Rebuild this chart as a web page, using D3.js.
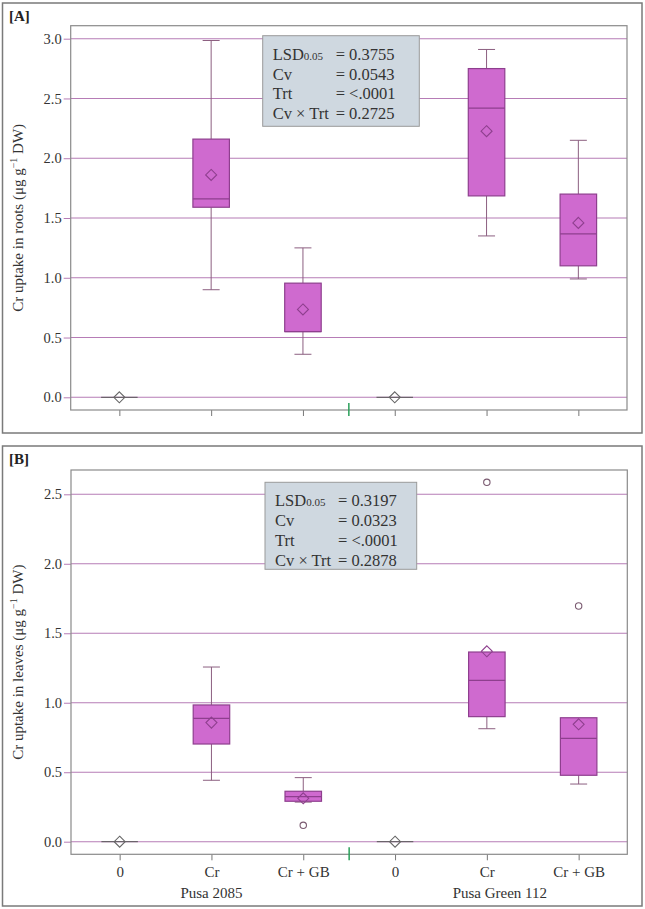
<!DOCTYPE html>
<html><head><meta charset="utf-8">
<script src="https://cdn.jsdelivr.net/npm/d3@7/dist/d3.min.js"></script>
<style>body{margin:0;background:#fff}svg{display:block}</style>
</head><body>
<script>
// ---- data ----
const categories = ["0","Cr","Cr + GB","0","Cr","Cr + GB"];
const cultivars = ["Pusa 2085","Pusa Green 112"];

const rootsLow    = [0, 0.90, 0.36, 0, 1.35, 0.99];
const rootsQ1     = [0, 1.59, 0.55, 0, 1.685, 1.10];
const rootsMedian = [0, 1.66, 0.55, 0, 2.42, 1.367];
const rootsQ3     = [0, 2.16, 0.955, 0, 2.75, 1.70];
const rootsHigh   = [0, 2.985, 1.25, 0, 2.91, 2.15];
const rootsMean   = [0, 1.86, 0.735, 0, 2.226, 1.459];
const rootsOutliers = [[],[],[],[],[],[]];
const rootsTicks = [0,0.5,1.0,1.5,2.0,2.5,3.0];
const rootsStats = [["LSD","0.05","= 0.3755"],["Cv","","= 0.0543"],["Trt","","= <.0001"],["Cv × Trt","","= 0.2725"]];

const leavesLow    = [0, 0.442, 0.285, 0, 0.813, 0.415];
const leavesQ1     = [0, 0.703, 0.291, 0, 0.90, 0.478];
const leavesMedian = [0, 0.888, 0.324, 0, 1.161, 0.744];
const leavesQ3     = [0, 0.984, 0.363, 0, 1.365, 0.892];
const leavesHigh   = [0, 1.257, 0.461, 0, 1.365, 0.892];
const leavesMean   = [0, 0.857, 0.312, 0, 1.37, 0.845];
const leavesOutliers = [[],[],[0.118],[],[2.586],[1.696]];
const leavesTicks = [0,0.5,1.0,1.5,2.0,2.5];
const leavesStats = [["LSD","0.05","= 0.3197"],["Cv","","= 0.0323"],["Trt","","= <.0001"],["Cv × Trt","","= 0.2878"]];

// ---- drawing ----
const W = 645, H = 909;
const FONT = "'Liberation Serif','Times New Roman',serif";
const svg = d3.select("body").append("svg").attr("width", W).attr("height", H)
  .style("font-family", FONT);

const BOX_FILL = "#cf6acf", BOX_STROKE = "#8e3f8e", GRID = "#b67cb6", WHISK = "#8c5f80";

function panel(o) {
  const g = svg.append("g");
  // outer frame
  g.append("rect").attr("x", o.frame[0]).attr("y", o.frame[1])
    .attr("width", o.frame[2]).attr("height", o.frame[3])
    .attr("fill", "none").attr("stroke", "#7a7a7a").attr("stroke-width", 1.5);
  g.append("text").attr("x", 9).attr("y", o.frame[1] + 18).text(o.tag)
    .attr("font-weight", "bold").attr("font-size", 15).attr("fill", "#222");

  const x = d3.scalePoint().domain(d3.range(categories.length)).range([o.left, o.right]).padding(0.53);
  const y = d3.scaleLinear().domain(o.domain).range([o.zeroY, o.topY]);

  // gridlines
  g.append("g").selectAll("line").data(o.ticks).join("line")
    .attr("x1", o.left).attr("x2", o.right).attr("y1", d => y(d)).attr("y2", d => y(d))
    .attr("stroke", GRID).attr("stroke-width", 1.1);

  // y axis
  const ya = g.append("g").attr("transform", `translate(${o.left},0)`)
    .call(d3.axisLeft(y).tickValues(o.ticks).tickFormat(d3.format(".1f")).tickSize(7).tickPadding(2));
  ya.select(".domain").remove();
  ya.selectAll("line").attr("stroke", GRID);
  ya.selectAll("text").attr("font-family", FONT).attr("font-size", 14.5).attr("fill", "#333");

  // x axis
  const xa = g.append("g").attr("transform", `translate(0,${o.bottom})`)
    .call(d3.axisBottom(x).tickSize(6).tickFormat(i => o.showLabels ? categories[i] : ""));
  xa.select(".domain").remove();
  xa.selectAll("line").attr("stroke", "#777");
  xa.selectAll("text").attr("font-family", FONT).attr("font-size", 15).attr("fill", "#333").attr("dy", "0.9em");

  // plot frame
  g.append("rect").attr("x", o.left).attr("y", o.top).attr("width", o.right - o.left)
    .attr("height", o.bottom - o.top).attr("fill", "none").attr("stroke", "#8a8a8a").attr("stroke-width", 1.2);

  // group separator tick
  const sepX = (x(2) + x(3)) / 2;
  g.append("line").attr("x1", sepX).attr("x2", sepX).attr("y1", o.bottom - 7).attr("y2", o.bottom + 6)
    .attr("stroke", "#2aa05a").attr("stroke-width", 1.5);

  if (o.showLabels) {
    cultivars.forEach((c, k) => {
      g.append("text").attr("x", k === 0 ? x(1) : x(4) + 13).attr("y", o.bottom + 44)
        .attr("text-anchor", "middle").attr("font-size", 15).attr("fill", "#333").text(c);
    });
  }

  // y label
  g.append("text").attr("transform", `translate(${o.labelX},${(o.top + o.bottom) / 2}) rotate(-90)`)
    .attr("text-anchor", "middle").attr("font-size", 15).attr("fill", "#333")
    .call(t => {
      t.append("tspan").text(o.yLabel + " (μg g");
      t.append("tspan").attr("font-size", 10).attr("dy", -6).text("−1");
      t.append("tspan").attr("dy", 6).text(" DW)");
    });

  // boxes
  const bw = 36.5, cw = 17;
  const idx = d3.range(categories.length);
  const bx = g.append("g");
  idx.forEach(i => {
    const cx = x(i);
    const zero = o.q3[i] === 0 && o.q1[i] === 0;
    if (zero) {
      bx.append("line").attr("x1", cx - bw / 2).attr("x2", cx + bw / 2)
        .attr("y1", y(o.median[i])).attr("y2", y(o.median[i])).attr("stroke", "#555").attr("stroke-width", 1);
    } else {
      // whiskers
      if (o.high[i] > o.q3[i]) {
        bx.append("line").attr("x1", cx).attr("x2", cx).attr("y1", y(o.high[i])).attr("y2", y(o.q3[i])).attr("stroke", WHISK);
        bx.append("line").attr("x1", cx - cw / 2).attr("x2", cx + cw / 2).attr("y1", y(o.high[i])).attr("y2", y(o.high[i])).attr("stroke", WHISK);
      }
      if (o.low[i] < o.q1[i]) {
        bx.append("line").attr("x1", cx).attr("x2", cx).attr("y1", y(o.q1[i])).attr("y2", y(o.low[i])).attr("stroke", WHISK);
        bx.append("line").attr("x1", cx - cw / 2).attr("x2", cx + cw / 2).attr("y1", y(o.low[i])).attr("y2", y(o.low[i])).attr("stroke", WHISK);
      }
      bx.append("rect").attr("x", cx - bw / 2).attr("y", y(o.q3[i])).attr("width", bw)
        .attr("height", y(o.q1[i]) - y(o.q3[i])).attr("fill", BOX_FILL).attr("stroke", BOX_STROKE).attr("stroke-width", 1.2);
      bx.append("line").attr("x1", cx - bw / 2).attr("x2", cx + bw / 2)
        .attr("y1", y(o.median[i])).attr("y2", y(o.median[i])).attr("stroke", BOX_STROKE).attr("stroke-width", 1.3);
    }
    // mean diamond
    const my = y(o.mean[i]), r = 5.5;
    bx.append("path").attr("d", `M${cx},${my - r}L${cx + r},${my}L${cx},${my + r}L${cx - r},${my}Z`)
      .attr("fill", "none").attr("stroke", zero ? "#666" : BOX_STROKE).attr("stroke-width", 1.1);
    // outliers
    o.outliers[i].forEach(v => {
      bx.append("circle").attr("cx", cx).attr("cy", y(v)).attr("r", 3.2)
        .attr("fill", "none").attr("stroke", "#7a5a70").attr("stroke-width", 1.1);
    });
  });

  // stats box
  const sb = g.append("g");
  sb.append("rect").attr("x", o.stat[0]).attr("y", o.stat[1]).attr("width", o.stat[2]).attr("height", o.stat[3])
    .attr("fill", "#cfd8e0").attr("stroke", "#9a9a9a").attr("stroke-width", 1);
  o.stats.forEach((s, k) => {
    const ty = o.stat[1] + 24 + k * 19.8;
    const t = sb.append("text").attr("x", o.stat[0] + 10).attr("y", ty).attr("font-size", 16.5).attr("fill", "#333");
    t.append("tspan").text(s[0]);
    if (s[1]) t.append("tspan").attr("font-size", 11).text(s[1]);
    sb.append("text").attr("x", o.stat[0] + 73).attr("y", ty).attr("font-size", 16.5).attr("fill", "#333").text(s[2]);
  });
}

panel({
  tag: "[A]", frame: [2.5, 3, 639.5, 430],
  left: 70.7, right: 627, top: 25.7, bottom: 410,
  zeroY: 397.3, topY: 38.7, domain: [0, 3],
  ticks: rootsTicks, showLabels: false, labelX: 23,
  yLabel: "Cr uptake in roots",
  low: rootsLow, q1: rootsQ1, median: rootsMedian, q3: rootsQ3, high: rootsHigh, mean: rootsMean, outliers: rootsOutliers,
  stat: [262.7, 35.7, 156.6, 90.6], stats: rootsStats
});

panel({
  tag: "[B]", frame: [2.5, 446, 639.5, 460],
  left: 71, right: 627.3, top: 470, bottom: 854.3,
  zeroY: 841.7, topY: 494.3, domain: [0, 2.5],
  ticks: leavesTicks, showLabels: true, labelX: 23,
  yLabel: "Cr uptake in leaves",
  low: leavesLow, q1: leavesQ1, median: leavesMedian, q3: leavesQ3, high: leavesHigh, mean: leavesMean, outliers: leavesOutliers,
  stat: [265, 482.3, 151.7, 87], stats: leavesStats
});
</script>
</body></html>
